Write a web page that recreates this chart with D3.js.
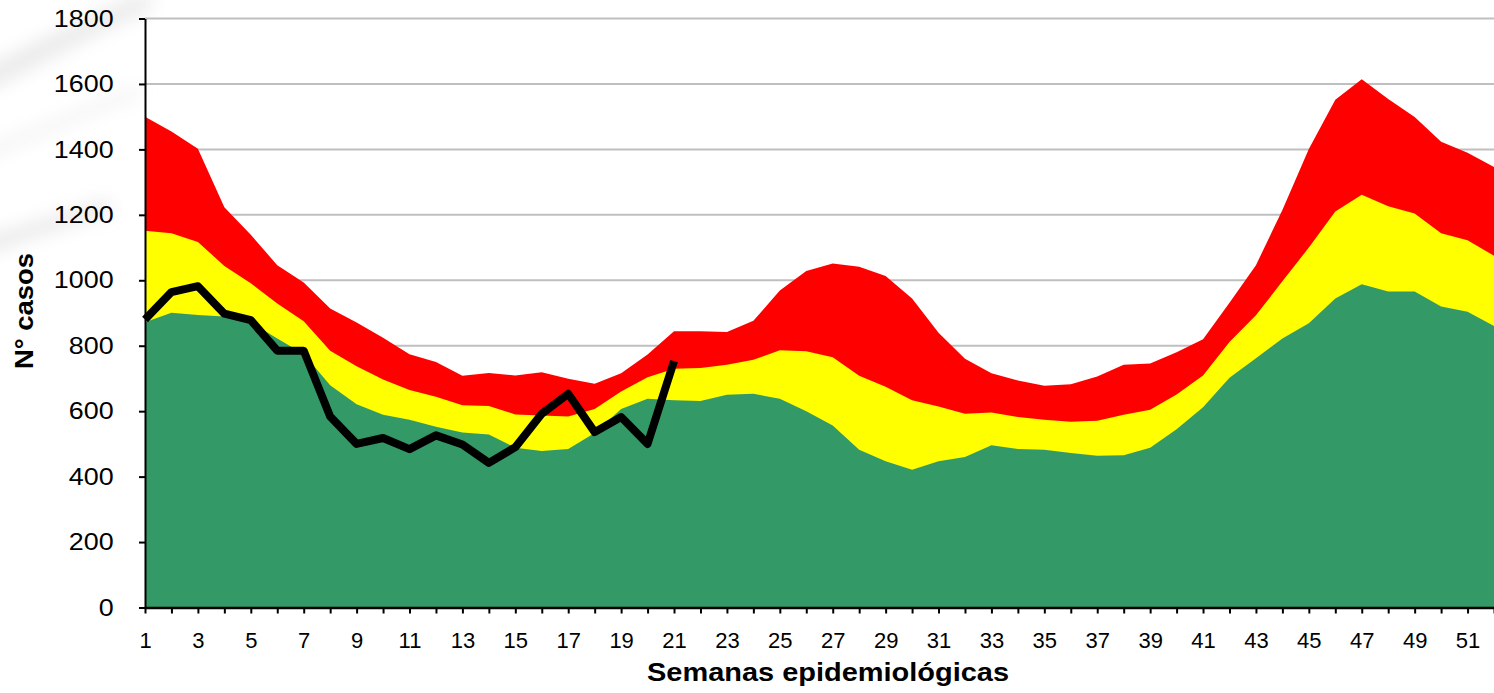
<!DOCTYPE html>
<html>
<head>
<meta charset="utf-8">
<script src="https://cdn.jsdelivr.net/npm/d3@7"></script>
<style>
  body { margin: 0; background: #fff; }
  svg { display: block; font-family: "Liberation Sans", Arial, sans-serif; }
</style>
</head>
<body>
<div id="chart"></div>
<script>
// canal endemico - semanas epidemiologicas
const semanas = d3.range(1, 53);

// limite superior zona de exito (verde)
const exito = [872, 901, 894, 889, 872, 822, 775, 679, 621, 589, 574, 552, 535, 529, 488, 478, 484, 533, 607, 638,
  633, 631, 650, 653, 638, 600, 556, 482, 447, 421, 447, 460, 496, 484, 482, 472, 464, 465, 488, 545,
  612, 702, 762, 822, 869, 944, 988, 966, 966, 920, 904, 860];

// limite superior zona de seguridad (amarillo)
const seguridad = [1151, 1144, 1117, 1044, 991, 929, 875, 785, 737, 697, 665, 644, 618, 616, 590, 587, 584, 607, 660, 704,
  730, 732, 742, 757, 786, 783, 765, 708, 675, 633, 614, 592, 596, 582, 574, 568, 571, 589, 604, 651,
  709, 811, 893, 997, 1100, 1210, 1261, 1226, 1204, 1144, 1122, 1075];

// limite superior zona de alerta (rojo)
const alerta = [1500, 1455, 1402, 1223, 1139, 1046, 993, 914, 871, 824, 774, 750, 708, 717, 709, 719, 699, 684, 716, 773,
  844, 844, 842, 876, 969, 1028, 1051, 1041, 1013, 944, 840, 760, 716, 694, 678, 682, 706, 742, 746, 780,
  820, 931, 1046, 1215, 1401, 1552, 1614, 1554, 1499, 1423, 1390, 1346];

// casos notificados año actual
const casos = [880, 964, 982, 898, 878, 785, 785, 584, 500, 518, 484, 526, 498, 442, 490, 592, 653, 536, 582, 500, 753];

const yTicks = [0, 200, 400, 600, 800, 1000, 1200, 1400, 1600, 1800];

const width = 1494;
const height = 693;
const margin = { top: 18.5, right: 0, bottom: 85.5, left: 145 };
const w = width - margin.left - margin.right;
const h = height - margin.top - margin.bottom;

const svg = d3.select('#chart').append('svg')
  .attr('width', width)
  .attr('height', height);

// faint background swoosh (slide template)
const defs = svg.append('defs');
defs.append('filter').attr('id', 'blur')
  .append('feGaussianBlur').attr('stdDeviation', 9);

const bg = svg.append('g').attr('filter', 'url(#blur)').style('opacity', 0.55);
bg.append('path')
  .attr('d', 'M-20,70 C30,45 80,20 150,-10 L150,10 C90,35 40,65 -20,95 Z')
  .attr('fill', '#d9d9d9');
bg.append('path')
  .attr('d', 'M-20,240 C20,228 60,215 110,200 L110,212 C60,228 20,240 -20,255 Z')
  .attr('fill', '#d0d0d0');
bg.append('path')
  .attr('d', 'M-20,150 C30,130 80,110 140,85 L140,95 C80,120 30,140 -20,162 Z')
  .attr('fill', '#e6e6e6');

const g = svg.append('g')
  .attr('transform', 'translate(' + margin.left + ',' + margin.top + ')');

const x = d3.scaleLinear().domain([1, 52]).range([0, w]);
const y = d3.scaleLinear().domain([0, 1800]).range([h, 0]);

// gridlines
g.append('g')
  .selectAll('line')
  .data(yTicks.filter(d => d > 0))
  .enter().append('line')
    .attr('x1', 0)
    .attr('x2', w)
    .attr('y1', d => y(d))
    .attr('y2', d => y(d))
    .style('stroke', '#bfbfbf')
    .style('stroke-width', '2px');

const zonas = [
  { name: 'alerta', values: alerta, color: '#ff0000' },
  { name: 'seguridad', values: seguridad, color: '#ffff00' },
  { name: 'exito', values: exito, color: '#339966' }
];

const area = d3.area()
  .x((d, i) => x(semanas[i]))
  .y0(y(0))
  .y1(d => y(d));

zonas.forEach((z) => {
  g.append('path')
    .attr('class', 'zona-' + z.name)
    .style('fill', z.color)
    .style('stroke', 'none')
    .attr('d', area(z.values));
});

const line = d3.line()
  .x((d, i) => x(semanas[i]))
  .y(d => y(d));

g.append('path')
  .attr('class', 'casos')
  .style('fill', 'none')
  .style('stroke', '#000')
  .style('stroke-width', '8px')
  .style('stroke-linejoin', 'round')
  .attr('d', line(casos));

// y axis
const yAxis = d3.axisLeft(y)
  .tickValues(yTicks)
  .tickSize(6)
  .tickSizeOuter(0)
  .tickPadding(22)
  .tickFormat(d3.format('d'));

const yG = g.append('g')
  .attr('class', 'y axis')
  .call(yAxis);

yG.select('.domain').style('stroke', '#000').style('stroke-width', '2px');
yG.selectAll('.tick line').style('stroke', '#000').style('stroke-width', '2px');
yG.selectAll('.tick text')
  .style('font-size', '24px')
  .style('fill', '#000')
  .attr('transform', 'scale(1.12,1)');

// x axis
const xAxis = d3.axisBottom(x)
  .tickValues(semanas)
  .tickSize(6)
  .tickSizeOuter(0)
  .tickPadding(18.5)
  .tickFormat(d => d % 2 === 1 ? d : '');

const xG = g.append('g')
  .attr('class', 'x axis')
  .attr('transform', 'translate(0,' + h + ')')
  .call(xAxis);

xG.select('.domain').style('stroke', '#000').style('stroke-width', '2.5px');
xG.selectAll('.tick line').style('stroke', '#000').style('stroke-width', '2px');
xG.selectAll('.tick text')
  .style('font-size', '22px')
  .style('fill', '#000');

// axis titles
svg.append('text')
  .attr('x', 828)
  .attr('y', 681)
  .attr('text-anchor', 'middle')
  .attr('textLength', 362)
  .attr('lengthAdjust', 'spacingAndGlyphs')
  .style('font-size', '25px')
  .style('font-weight', 'bold')
  .text('Semanas epidemiológicas');

svg.append('text')
  .attr('transform', 'translate(33,311) rotate(-90)')
  .attr('text-anchor', 'middle')
  .attr('textLength', 116)
  .attr('lengthAdjust', 'spacingAndGlyphs')
  .style('font-size', '25px')
  .style('font-weight', 'bold')
  .text('N° casos');
</script>
</body>
</html>
